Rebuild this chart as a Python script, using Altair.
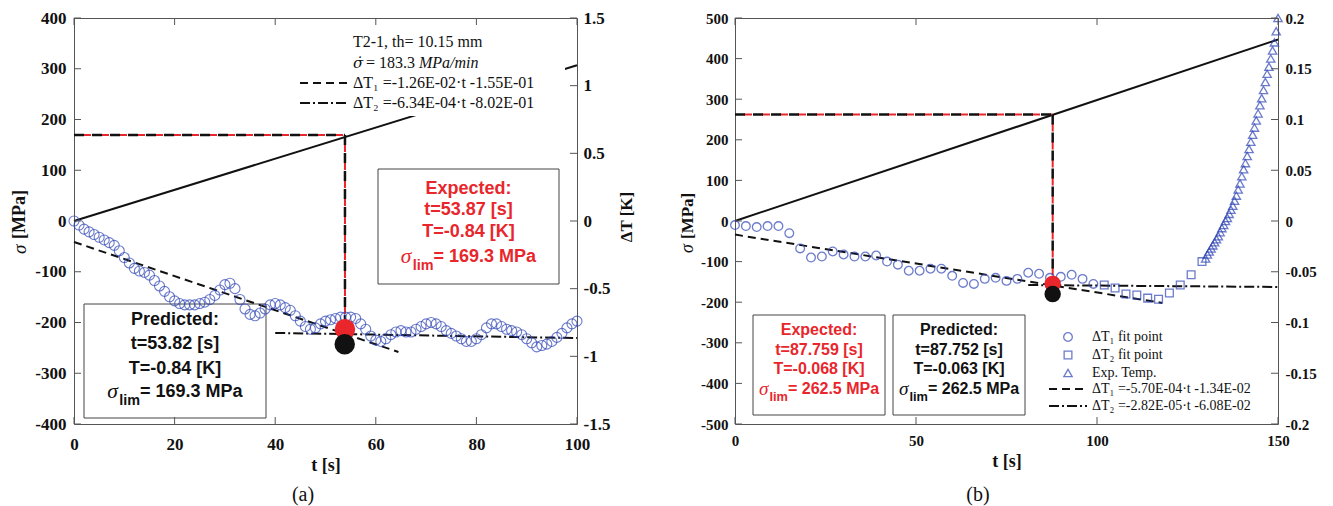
import altair as alt
import pandas as pd

SERIF = "Liberation Serif"
SANS = "Liberation Sans"
BLUE = "#2f45b5"
RED = "#e8262c"
INK = "#111111"
FRAME = "#555555"

# ---------------- panel (a) values ----------------
A_T = list(range(0, 101))
A_DT = [0.00, -0.03, -0.06, -0.08, -0.10, -0.12, -0.14, -0.16, -0.18, -0.22,
        -0.27, -0.31, -0.35, -0.37, -0.38, -0.40, -0.44, -0.48, -0.52, -0.56,
        -0.59, -0.61, -0.62, -0.62, -0.62, -0.61, -0.60, -0.58, -0.55, -0.51,
        -0.47, -0.46, -0.50, -0.58, -0.65, -0.69, -0.70, -0.68, -0.65, -0.62,
        -0.61, -0.62, -0.64, -0.66, -0.70, -0.74, -0.78, -0.80, -0.79, -0.76,
        -0.74, -0.73, -0.72, -0.71, -0.71, -0.71, -0.72, -0.76, -0.80, -0.85,
        -0.88, -0.89, -0.87, -0.84, -0.82, -0.81, -0.82, -0.82, -0.80, -0.78,
        -0.76, -0.75, -0.76, -0.78, -0.81, -0.83, -0.85, -0.87, -0.89, -0.89,
        -0.87, -0.84, -0.79, -0.76, -0.76, -0.78, -0.80, -0.81, -0.82, -0.84,
        -0.87, -0.90, -0.93, -0.92, -0.91, -0.89, -0.86, -0.83, -0.79, -0.76,
        -0.74]
A_LOAD_T = [0, 100]
A_LOAD_S = [0, 307]
A_FIT1_T = [0, 64.5]
A_FIT1_DT = [-0.155, -0.968]
A_FIT2_T = [40, 100]
A_FIT2_DT = [-0.827, -0.865]
A_LIM_T = 53.87
A_LIM_S = 169.3
A_DROP_S = -213
A_EXP_DOT = (53.87, -0.80)
A_PRED_DOT = (53.82, -0.91)
A_X_TICKS = [0, 20, 40, 60, 80, 100]
A_S_TICKS = [-400, -300, -200, -100, 0, 100, 200, 300, 400]
A_DT_TICKS = [-1.5, -1, -0.5, 0, 0.5, 1, 1.5]
A_LEGEND = ["T2-1, th= 10.15 mm", "\u03c3\u0307", "= 183.3", "MPa/min",
            "\u0394T\u2081 =-1.26E-02\u00b7t -1.55E-01", "\u0394T\u2082 =-6.34E-04\u00b7t -8.02E-01"]
A_EXPECTED = ["Expected:", "t=53.87 [s]", "T=-0.84 [K]", "169.3"]
A_PREDICTED = ["Predicted:", "t=53.82 [s]", "T=-0.84 [K]", "169.3"]

# ---------------- panel (b) values ----------------
B_C_T = [0, 3, 6, 9, 12, 15, 18, 21, 24, 27, 30, 33, 36, 39, 42, 45, 48, 51, 54,
         57, 60, 63, 66, 69, 72, 75, 78, 81, 84, 87, 90, 93, 96, 99]
B_C_DT = [-0.004, -0.005, -0.006, -0.005, -0.005, -0.012, -0.027, -0.036, -0.035,
          -0.030, -0.033, -0.035, -0.035, -0.034, -0.040, -0.043, -0.049, -0.049,
          -0.047, -0.047, -0.054, -0.061, -0.062, -0.057, -0.056, -0.059, -0.057,
          -0.051, -0.052, -0.056, -0.055, -0.053, -0.057, -0.062]
B_S_T = [102, 105, 108, 111, 114, 117, 120, 123, 126, 129]
B_S_DT = [-0.063, -0.066, -0.072, -0.073, -0.076, -0.077, -0.071, -0.063, -0.053, -0.040]
B_TR_T = [130.0, 130.5, 131.0, 131.5, 132.0, 132.5, 133.0, 133.5, 134.0, 134.5,
          135.0, 135.5, 136.0, 136.5, 137.0, 137.5, 138.0, 138.5, 139.0, 139.5,
          140.0, 140.5, 141.0, 141.5, 142.0, 142.5, 143.0, 143.5, 144.0, 144.5,
          145.0, 145.5, 146.0, 146.5, 147.0, 147.5, 148.0, 148.5, 149.0, 149.5, 150.0]
B_TR_DT = [-0.037, -0.033, -0.030, -0.027, -0.024, -0.021, -0.018, -0.015, -0.011, -0.007,
           -0.004, 0.000, 0.003, 0.007, 0.011, 0.015, 0.020, 0.025, 0.031, 0.037,
           0.044, 0.051, 0.057, 0.064, 0.071, 0.078, 0.085, 0.092, 0.099, 0.106,
           0.114, 0.121, 0.129, 0.137, 0.145, 0.152, 0.160, 0.168, 0.176, 0.187, 0.200]
B_LOAD_T = [0, 150]
B_LOAD_S = [0, 447]
B_FIT1_T = [0, 118]
B_FIT1_DT = [-0.0134, -0.0807]
B_FIT2_T = [81, 150]
B_FIT2_DT = [-0.0631, -0.0650]
B_LIM_T = 87.76
B_LIM_S = 262.5
B_DROP_S = -155
B_EXP_DOT = (87.76, -0.062)
B_PRED_DOT = (87.75, -0.072)
B_X_TICKS = [0, 50, 100, 150]
B_S_TICKS = [-500, -400, -300, -200, -100, 0, 100, 200, 300, 400, 500]
B_DT_TICKS = [-0.2, -0.15, -0.1, -0.05, 0, 0.05, 0.1, 0.15, 0.2]
B_LEGEND = ["\u0394T\u2081 fit point", "\u0394T\u2082 fit point", "Exp. Temp.",
            "\u0394T\u2081 =-5.70E-04\u00b7t -1.34E-02", "\u0394T\u2082 =-2.82E-05\u00b7t -6.08E-02"]
B_EXPECTED = ["Expected:", "t=87.759 [s]", "T=-0.068 [K]", "262.5"]
B_PREDICTED = ["Predicted:", "t=87.752 [s]", "T=-0.063 [K]", "262.5"]

DUMMY = pd.DataFrame({"k": [1]})
DASH = [8, 5]
DASHDOT = [10, 3, 2, 3]


def T(x, y, s, size, font=SERIF, weight="normal", style="normal", color=INK, align="left", angle=0):
    return alt.Chart(DUMMY).mark_text(font=font, fontSize=size, fontWeight=weight, fontStyle=style,
                                      color=color, align=align, baseline="middle", angle=angle).encode(
        x=alt.value(x), y=alt.value(y), text=alt.value(s))


def R(x1, x2, y1, y2, stroke=True):
    if stroke:
        m = alt.Chart(DUMMY).mark_rect(fill="white", stroke="#444444", strokeWidth=1)
    else:
        m = alt.Chart(DUMMY).mark_rect(fill="white", strokeWidth=0)
    return m.encode(x=alt.value(x1), x2=alt.value(x2), y=alt.value(y1), y2=alt.value(y2))


def HL(x1, x2, y, dash, width=2, color=INK):
    return alt.Chart(DUMMY).mark_rule(color=color, strokeWidth=width, strokeDash=dash).encode(
        x=alt.value(x1), x2=alt.value(x2), y=alt.value(y))


W_BOLD = {".": .278, " ": .278, "=": .584, "M": .833, "P": .667, "a": .556}


def siglim(cx, cy, num, size, color):
    eq = "= " + num + " MPa"
    eq_w = sum(W_BOLD.get(c, .556) for c in eq) * size
    sig_size = size * 1.2
    sig_w = 0.55 * sig_size
    lim_size = size * 0.8
    lim_w = 1.445 * lim_size
    x0 = cx - (sig_w + lim_w + eq_w) / 2
    return [T(x0, cy, "\u03c3", sig_size, SERIF, style="italic", color=color),
            T(x0 + sig_w, cy + size * 0.5, "lim", lim_size, SANS, weight="bold", color=color),
            T(x0 + sig_w + lim_w, cy, eq, size, SANS, weight="bold", color=color)]


def box_text(cx, rows_y, lines, size, color):
    out = []
    for yy, s in zip(rows_y[:3], lines[:3]):
        out.append(T(cx, yy, s, size, SANS, weight="bold", color=color, align="center"))
    out += siglim(cx, rows_y[3], lines[3], size, color)
    return out


def encs(xdom, xticks, sdom, sticks, ddom, dticks, lab, xpad, tpad, lpad, rpad):
    common = dict(labelExpr="'' + datum.value", labelFont=SERIF, labelFontWeight="bold",
                  labelFontSize=lab, labelColor=INK, labelFlush=False, labelOverlap=False,
                  ticks=False, domain=False, grid=False)
    xs = alt.Scale(domain=xdom, nice=False, zero=False)
    ss = alt.Scale(domain=sdom, nice=False, zero=False)
    ds = alt.Scale(domain=ddom, nice=False, zero=False)
    X = alt.X("t:Q", scale=xs, axis=alt.Axis(values=xticks, title="t [s]", labelPadding=xpad,
                                              titleFont=SERIF, titleFontWeight="bold", titleFontSize=18,
                                              titleColor=INK, titlePadding=tpad, **common))
    SA = alt.Y("s:Q", scale=ss, axis=alt.Axis(values=sticks, title=None, labelPadding=lpad, **common))
    S = alt.Y("s:Q", scale=ss, axis=None)
    DA = alt.Y("d:Q", scale=ds, axis=alt.Axis(orient="right", values=dticks, title=None,
                                               labelPadding=rpad, **common))
    D = alt.Y("d:Q", scale=ds, axis=None)
    return X, SA, S, DA, D


def ticks(X, S, D, W, H, xticks, sticks, dticks):
    L = 7
    return [
        alt.Chart(pd.DataFrame({"t": xticks})).mark_rule(color=FRAME).encode(x=X, y=alt.value(H), y2=alt.value(H - L)),
        alt.Chart(pd.DataFrame({"t": xticks})).mark_rule(color=FRAME).encode(x=X, y=alt.value(0), y2=alt.value(L)),
        alt.Chart(pd.DataFrame({"s": sticks})).mark_rule(color=FRAME).encode(y=S, x=alt.value(0), x2=alt.value(L)),
        alt.Chart(pd.DataFrame({"d": dticks})).mark_rule(color=FRAME).encode(y=D, x=alt.value(W - L), x2=alt.value(W)),
    ]


def ref_lines(X, S, t_lim, s_lim, s_drop):
    h = pd.DataFrame({"t": [0], "t1": [t_lim], "s": [s_lim]})
    v = pd.DataFrame({"t": [t_lim], "s": [s_lim], "s2": [s_drop]})
    out = []
    for df, is_h in ((h, True), (v, False)):
        for color, dash, off, w in ((RED, [8, 10], 9, 2), (INK, [10, 8], 0, 2.5)):
            m = alt.Chart(df).mark_rule(color=color, strokeWidth=w, strokeDash=dash, strokeDashOffset=off)
            if is_h:
                out.append(m.encode(x=X, x2=alt.X2("t1"), y=S))
            else:
                out.append(m.encode(x=X, y=S, y2=alt.Y2("s2")))
    return out


def dots(X, D, exp, pred, size_r, size_k):
    return [
        alt.Chart(pd.DataFrame({"t": [exp[0]], "d": [exp[1]]})).mark_point(
            shape="circle", filled=True, color=RED, size=size_r, opacity=1).encode(x=X, y=D),
        alt.Chart(pd.DataFrame({"t": [pred[0]], "d": [pred[1]]})).mark_point(
            shape="circle", filled=True, color=INK, size=size_k, opacity=1).encode(x=X, y=D),
    ]


def fitlines(X, D, t1, d1, t2, d2):
    return [
        alt.Chart(pd.DataFrame({"t": t1, "d": d1})).mark_line(color=INK, strokeWidth=2, strokeDash=DASH).encode(x=X, y=D),
        alt.Chart(pd.DataFrame({"t": t2, "d": d2})).mark_line(color=INK, strokeWidth=2, strokeDash=DASHDOT).encode(x=X, y=D),
    ]


# ---------------- build panel (a) ----------------
WA, HA = 503, 406
X, SA, S, DA, D = encs([0, 100], A_X_TICKS, [-400, 400], A_S_TICKS, [-1.5, 1.5], A_DT_TICKS,
                       17, 12, 4, 8, 6)
la = []
la += [R(304, 485, 151, 266), R(10, 192, 286, 400)]
la.append(alt.Chart(pd.DataFrame({"t": A_LOAD_T, "s": A_LOAD_S})).mark_line(color=INK, strokeWidth=2).encode(x=X, y=SA))
la.append(R(222, 491, 8, 98, stroke=False))
la += [HL(226, 273, 65, DASH), HL(226, 273, 85, DASHDOT)]
la.append(T(279, 24, A_LEGEND[0], 16))
la.append(T(279, 45, A_LEGEND[1], 15, font="DejaVu Serif", style="italic"))
la.append(T(292, 45, A_LEGEND[2], 16))
la.append(T(345, 45, A_LEGEND[3], 16, style="italic"))
la.append(T(279, 65, A_LEGEND[4], 16))
la.append(T(279, 85, A_LEGEND[5], 16))
la += ref_lines(X, S, A_LIM_T, A_LIM_S, A_DROP_S)
la += fitlines(X, D, A_FIT1_T, A_FIT1_DT, A_FIT2_T, A_FIT2_DT)
la.append(alt.Chart(pd.DataFrame({"t": A_T, "d": A_DT})).mark_point(
    shape="circle", filled=False, color=BLUE, size=100, strokeWidth=1.1).encode(x=X, y=DA))
la += dots(X, D, A_EXP_DOT, A_PRED_DOT, 420, 420)
la += box_text(394.5, [171, 192, 214, 239], A_EXPECTED, 18, RED)
la += box_text(101, [302, 326, 351, 374], A_PREDICTED, 18, INK)
la += ticks(X, S, D, WA, HA, A_X_TICKS, A_S_TICKS, A_DT_TICKS)
la.append(T(-54, 221, "[MPa]", 18, SERIF, weight="bold", angle=270))
la.append(T(-54, 236, "\u03c3", 19, SERIF, style="italic", angle=270))
la.append(T(553, 199, "\u0394T [K]", 17, SERIF, weight="bold", align="center", angle=270))
la.append(T(229, 477, "(a)", 20, SERIF, align="center"))
panel_a = alt.layer(*la).resolve_scale(y="independent").properties(width=WA, height=HA)

# ---------------- build panel (b) ----------------
WB, HB = 543, 406
X, SA, S, DA, D = encs([0, 150], B_X_TICKS, [-500, 500], B_S_TICKS, [-0.2, 0.2], B_DT_TICKS,
                       15, 9, 4, 7, 7)
lb = []
lb += [R(18, 150, 297, 397), R(158, 290, 297, 397)]
lb.append(alt.Chart(pd.DataFrame({"t": B_LOAD_T, "s": B_LOAD_S})).mark_line(color=INK, strokeWidth=2).encode(x=X, y=SA))
lb += ref_lines(X, S, B_LIM_T, B_LIM_S, B_DROP_S)
lb += fitlines(X, D, B_FIT1_T, B_FIT1_DT, B_FIT2_T, B_FIT2_DT)
lb.append(alt.Chart(pd.DataFrame({"t": B_C_T, "d": B_C_DT})).mark_point(
    shape="circle", filled=False, color=BLUE, size=75, strokeWidth=1.3).encode(x=X, y=DA))
lb.append(alt.Chart(pd.DataFrame({"t": B_S_T, "d": B_S_DT})).mark_point(
    shape="square", filled=False, color=BLUE, size=60, strokeWidth=1.3).encode(x=X, y=D))
lb.append(alt.Chart(pd.DataFrame({"t": B_TR_T, "d": B_TR_DT})).mark_point(
    shape="triangle-up", filled=False, color=BLUE, size=70, strokeWidth=1.3).encode(x=X, y=D))
lb += dots(X, D, B_EXP_DOT, B_PRED_DOT, 270, 270)
lb.append(alt.Chart(DUMMY).mark_point(shape="circle", filled=False, color=BLUE, size=75, strokeWidth=1.3).encode(x=alt.value(333), y=alt.value(319)))
lb.append(alt.Chart(DUMMY).mark_point(shape="square", filled=False, color=BLUE, size=60, strokeWidth=1.3).encode(x=alt.value(333), y=alt.value(337)))
lb.append(alt.Chart(DUMMY).mark_point(shape="triangle-up", filled=False, color=BLUE, size=70, strokeWidth=1.3).encode(x=alt.value(333), y=alt.value(355)))
lb += [HL(314, 352, 371, DASH), HL(314, 352, 388, DASHDOT)]
for yy, s in zip([319, 337, 355, 371, 388], B_LEGEND):
    lb.append(T(357, yy, s, 14))
lb += box_text(84, [312, 332, 351, 371], B_EXPECTED, 16, RED)
lb += box_text(224, [312, 332, 351, 371], B_PREDICTED, 16, INK)
lb += ticks(X, S, D, WB, HB, B_X_TICKS, B_S_TICKS, B_DT_TICKS)
lb.append(T(-47, 221, "[MPa]", 17, SERIF, weight="bold", angle=270))
lb.append(T(-47, 235, "\u03c3", 18, SERIF, style="italic", angle=270))
lb.append(T(243, 477, "(b)", 20, SERIF, align="center"))
panel_b = alt.layer(*lb).resolve_scale(y="independent").properties(width=WB, height=HB)

chart = alt.hconcat(panel_a, panel_b, spacing=158, bounds="flush").properties(
    padding={"left": 2, "top": 0, "right": 0, "bottom": 0}
).configure_view(stroke=FRAME, strokeWidth=1)

chart.save("out.html", embed_options={"renderer": "svg", "actions": False})
